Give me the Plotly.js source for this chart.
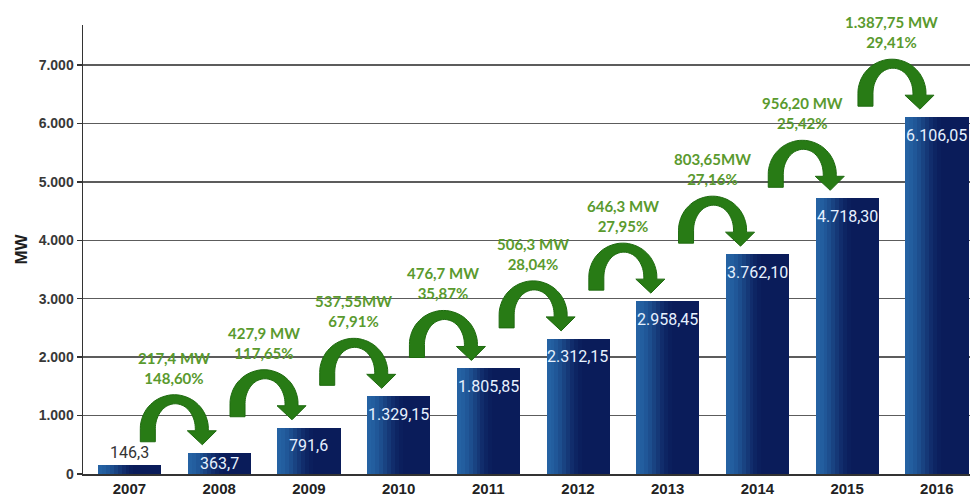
<!DOCTYPE html>
<html>
<head>
<meta charset="utf-8">
<script src="https://cdn.plot.ly/plotly-3.0.1.min.js"></script>
<style>html,body{margin:0;padding:0;background:#fff;}#chart{width:970px;height:504px;}</style>
</head>
<body>
<div id="chart"></div>
<script>
// ---- data ----
const years = ['2007','2008','2009','2010','2011','2012','2013','2014','2015','2016'];
const capacity = [146.3, 363.7, 791.6, 1329.15, 1805.85, 2312.15, 2958.45, 3762.10, 4718.30, 6106.05];
const capacityLabels = ['146,3','363,7','791,6','1.329,15','1.805,85','2.312,15','2.958,45','3.762,10','4.718,30','6.106,05'];
const growthMW = ['217,4 MW','427,9 MW','537,55MW','476,7 MW','506,3 MW','646,3 MW','803,65MW','956,20 MW','1.387,75 MW'];
const growthPct = ['148,60%','117,65%','67,91%','35,87%','28,04%','27,95%','27,16%','25,42%','29,41%'];
const yTickVals = [0, 1000, 2000, 3000, 4000, 5000, 6000, 7000];
const yTickText = ['0','1.000','2.000','3.000','4.000','5.000','6.000','7.000'];

// ---- styling helpers ----
const idx = years.map((_, i) => i);
const BAR_W = 0.70;
const SLICES = 16;
function hex2rgb(h){ return [parseInt(h.substr(1,2),16), parseInt(h.substr(3,2),16), parseInt(h.substr(5,2),16)]; }
function lerpColor(a, b, t){
  const A = hex2rgb(a), B = hex2rgb(b);
  return 'rgb(' + A.map((v,k)=>Math.round(v + (B[k]-v)*t)).join(',') + ')';
}
const traces = [];
for (let k = 0; k < SLICES; k++) {
  const t = (k + 0.5) / SLICES;
  const s = Math.min(1, t / 0.6);
  const e = s * s * (3 - 2 * s);
  const col = lerpColor('#2563a4', '#0a1c5a', e);
  traces.push({
    type: 'bar',
    x: idx,
    y: capacity,
    width: BAR_W / SLICES * 1.08,
    offset: -BAR_W / 2 + k * BAR_W / SLICES,
    marker: { color: col, line: { width: 0 } },
    hoverinfo: 'skip',
    showlegend: false
  });
}

// curved arrow polygon (screen px relative to anchor, y down), converted to y-up
function arrowPath(){
  const pts = [];
  pts.push([-34, -11]);
  const R = 34, cx = 0, cy = -24;
  for (let j = 0; j <= 36; j++) {
    const t = Math.PI * j / 36;
    pts.push([cx - R * Math.cos(t), cy - R * Math.sin(t)]);
  }
  pts.push([34, -22]);
  pts.push([42, -22]);
  pts.push([28, -8]);
  pts.push([13, -22]);
  pts.push([21, -22]);
  const icx = 1, icy = -24, rx = 20, ry = 25;
  for (let j = 36; j >= 0; j--) {
    const t = Math.PI * j / 36;
    pts.push([icx - rx * Math.cos(t), icy - ry * Math.sin(t)]);
  }
  pts.push([-19, -11]);
  return 'M' + pts.map(p => p[0].toFixed(1) + ',' + (-p[1]).toFixed(1)).join(' L') + ' Z';
}
const arrowD = arrowPath();

const shapes = [];
const annotations = [];
for (let i = 0; i < growthMW.length; i++) {
  shapes.push({
    type: 'path', layer: 'above',
    xref: 'x', yref: 'y',
    xsizemode: 'pixel', ysizemode: 'pixel',
    xanchor: i + 0.5, yanchor: capacity[i + 1],
    path: arrowD,
    fillcolor: '#287b15',
    line: { color: '#1e6a0f', width: 1 }
  });
  annotations.push({
    x: i + 0.5, y: capacity[i + 1], xref: 'x', yref: 'y',
    yanchor: 'bottom', yshift: 64, showarrow: false,
    text: '<b>' + growthMW[i] + '<br>' + growthPct[i] + '</b>',
    font: { family: 'Lato, "Liberation Sans", sans-serif', size: 15, color: '#5a9a2e' },
    align: 'center'
  });
}
for (let i = 0; i < capacity.length; i++) {
  const outside = capacity[i] < 300;
  const small = !outside && capacity[i] < 700;
  annotations.push({
    x: i, y: small ? capacity[i] / 2 : capacity[i], xref: 'x', yref: 'y',
    yanchor: 'middle', yshift: outside ? 13 : (small ? 0 : -18), showarrow: false,
    text: capacityLabels[i],
    font: { family: 'Roboto, "DejaVu Sans", sans-serif', size: 16, color: outside ? '#333333' : '#e6f1ff' }
  });
}
// extension of the left axis below zero
shapes.push({
  type: 'line', layer: 'above', xref: 'paper', yref: 'y', ysizemode: 'pixel',
  x0: 0, x1: 0, yanchor: 0, y0: 0, y1: -10,
  line: { color: '#333333', width: 1.5 }
});

const layout = {
  width: 970, height: 504,
  margin: { l: 83, r: 0, t: 25, b: 30 },
  paper_bgcolor: '#ffffff', plot_bgcolor: '#ffffff',
  bargap: 0, barmode: 'overlay',
  xaxis: {
    range: [-0.518, 9.37], tickvals: idx, ticktext: years,
    showline: true, linecolor: '#333333', linewidth: 1.5,
    showgrid: false, zeroline: false, ticks: '',
    tickfont: { family: '"Liberation Sans", Arial, sans-serif', size: 15, color: '#222222', weight: 'bold' },
    fixedrange: true
  },
  yaxis: {
    range: [0, 7684], tickvals: yTickVals, ticktext: yTickText,
    showline: true, linecolor: '#333333', linewidth: 1.5,
    showgrid: true, gridcolor: '#5c5c5c', gridwidth: 1.5, zeroline: false,
    ticks: 'outside', ticklen: 5, tickcolor: '#333333', tickwidth: 1.5,
    tickfont: { family: '"Liberation Sans", Arial, sans-serif', size: 14, color: '#383838', weight: 'bold' },
    title: { text: '<b>MW</b>', font: { family: '"Liberation Sans", Arial, sans-serif', size: 17, color: '#1e1e1e' }, standoff: 6 },
    fixedrange: true
  },
  shapes: shapes,
  annotations: annotations,
  showlegend: false
};

Plotly.newPlot('chart', traces, layout, { displayModeBar: false, staticPlot: true });
</script>
</body>
</html>
